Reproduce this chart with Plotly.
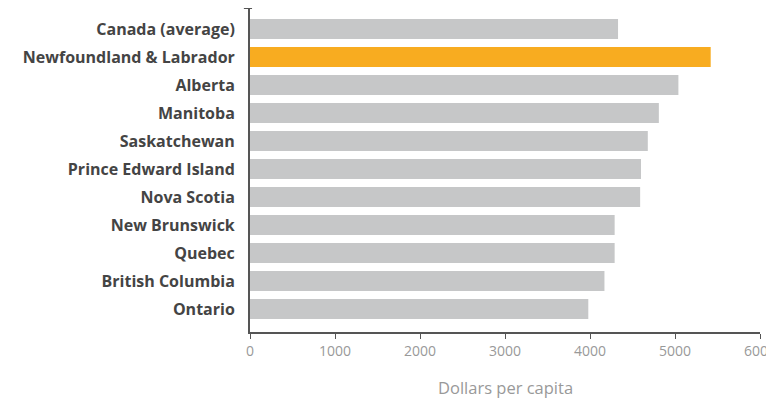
import plotly.graph_objects as go

provinces = ["Canada (average)", "Newfoundland & Labrador", "Alberta", "Manitoba",
             "Saskatchewan", "Prince Edward Island", "Nova Scotia", "New Brunswick",
             "Quebec", "British Columbia", "Ontario"]
values = [4330, 5420, 5040, 4810, 4680, 4600, 4590, 4290, 4290, 4170, 3980]
highlight = "Newfoundland & Labrador"
x_ticks = [0, 1000, 2000, 3000, 4000, 5000, 6000]

colors = ["#F8AC20" if p == highlight else "#C6C7C8" for p in provinces]

fig = go.Figure(go.Bar(
    x=values, y=provinces, orientation="h",
    marker=dict(color=colors, line=dict(width=0)),
))

# page has an 8px body margin, so the figure is sized to the remaining area
W, H = 766, 392
T, B = 0, 68
PLOT_H = H - T - B

fig.update_layout(
    width=W, height=H,
    margin=dict(l=242, r=14, t=T, b=B, pad=0, autoexpand=False),
    paper_bgcolor="white", plot_bgcolor="white",
    bargap=0.286,
    showlegend=False,
    font=dict(family="Open Sans, sans-serif"),
)
fig.update_yaxes(
    automargin=False,
    autorange=False, range=[10.82, -0.75],
    categoryorder="array", categoryarray=provinces,
    showline=True, linecolor="#555555", linewidth=2,
    ticks="", showgrid=False, zeroline=False,
    ticklabelstandoff=10,
    tickfont=dict(family="Open Sans, sans-serif", size=16, color="#444444", weight="bold"),
)
fig.update_xaxes(
    automargin=False,
    range=[0, 6000], tickvals=x_ticks, ticktext=[str(v) for v in x_ticks],
    showline=True, linecolor="#555555", linewidth=1.5,
    ticks="outside", ticklen=5, tickcolor="#555555", tickwidth=1,
    ticklabeloverflow="allow",
    showgrid=False, zeroline=False,
    tickfont=dict(family="Open Sans, sans-serif", size=14, color="#999999"),
)
fig.add_annotation(
    text="Dollars per capita", xref="paper", yref="paper",
    x=0.5, y=-55 / PLOT_H, xanchor="center", yanchor="middle", showarrow=False,
    font=dict(family="Open Sans, sans-serif", size=16.5, color="#999999"),
)
fig.add_shape(type="line", xref="paper", yref="paper",
              x0=-0.012, x1=0.004, y0=1, y1=1,
              line=dict(color="#555555", width=2))

fig.write_html("out.html")
